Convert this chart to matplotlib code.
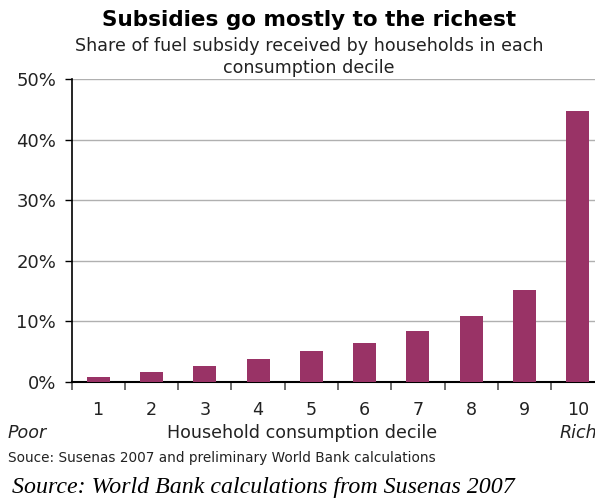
import matplotlib.pyplot as plt

# Data
deciles = ['1', '2', '3', '4', '5', '6', '7', '8', '9', '10']
shares = [0.8, 1.7, 2.6, 3.8, 5.1, 6.4, 8.4, 10.9, 15.2, 44.7]
yticks = [0, 10, 20, 30, 40, 50]

bar_color = '#993366'

fig = plt.figure(figsize=(5.95, 4.98), dpi=100)
# axes extends past the right edge, as in the original
ax = fig.add_axes([71.5 / 595, 1 - 382 / 498, 533 / 595, 303 / 498])

x = range(len(deciles))
ax.bar(x, shares, width=0.43, color=bar_color, zorder=3)

ax.set_xlim(-0.5, len(deciles) - 0.5)
ax.set_ylim(0, 50)
ax.set_yticks(yticks)
ax.set_yticklabels([f'{v}%' for v in yticks], fontsize=13, color='#222222')
ax.yaxis.grid(True, color='#b0b0b0', linewidth=1.0, zorder=0)

# category boundary ticks, labels centred on bars
ax.set_xticks([i - 0.5 for i in range(len(deciles) + 1)])
ax.set_xticklabels([])
ax.set_xticks(list(x), minor=True)
ax.set_xticklabels(deciles, minor=True, fontsize=12.6, color='#222222')
ax.tick_params(axis='x', which='major', length=6, width=1.2, color='#555555')
ax.tick_params(axis='x', which='minor', length=0, pad=14)
ax.tick_params(axis='y', length=5, width=1, pad=6)

for side in ['top', 'right']:
    ax.spines[side].set_visible(False)
ax.spines['left'].set_linewidth(1.2)
ax.spines['bottom'].set_linewidth(1.5)

fig.text(309 / 595, 1 - 20 / 498, 'Subsidies go mostly to the richest',
         ha='center', va='center', fontsize=15.5, fontweight='bold')
fig.text(309 / 595, 1 - 57 / 498,
         'Share of fuel subsidy received by households in each\nconsumption decile',
         ha='center', va='center', fontsize=12.6, linespacing=1.25, color='#222222')

fig.text(8 / 595, 1 - 433 / 498, 'Poor', ha='left', va='center',
         fontsize=12.6, style='italic', color='#222222')
fig.text(302 / 595, 1 - 433 / 498, 'Household consumption decile',
         ha='center', va='center', fontsize=12.6, color='#222222')
# cut off at the right edge, as in the original
fig.text(560 / 595, 1 - 433 / 498, 'Rich', ha='left', va='center',
         fontsize=12.6, style='italic', color='#222222')
fig.text(8 / 595, 1 - 458 / 498,
         'Souce: Susenas 2007 and preliminary World Bank calculations',
         ha='left', va='center', fontsize=9.8, color='#222222')
fig.text(12 / 595, 1 - 487 / 498, 'Source: World Bank calculations from Susenas 2007',
         ha='left', va='center', fontsize=17.2, style='italic',
         family=['Liberation Serif', 'DejaVu Serif'])

fig.savefig('out.png', dpi=100)
